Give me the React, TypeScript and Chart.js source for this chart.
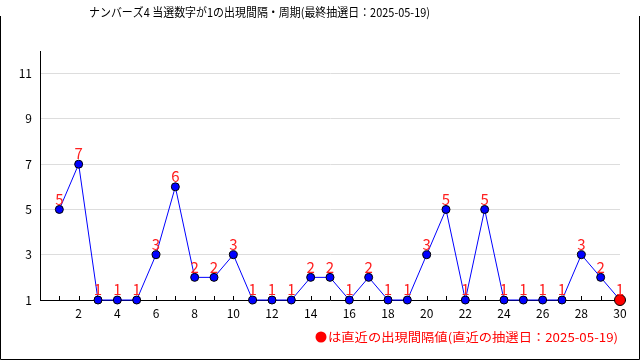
import React, { useEffect, useRef } from 'react';
import { Chart, registerables } from 'chart.js';

Chart.register(...registerables);

const TITLE = 'ナンバーズ4 当選数字が1の出現間隔・周期(最終抽選日：2025-05-19)';
const NOTE = 'は直近の出現間隔値(直近の抽選日：2025-05-19)';
const draws = [1, 2, 3, 4, 5, 6, 7, 8, 9, 10, 11, 12, 13, 14, 15, 16, 17, 18, 19, 20, 21, 22, 23, 24, 25, 26, 27, 28, 29, 30];
const intervals = [5, 7, 1, 1, 1, 3, 6, 2, 2, 3, 1, 1, 1, 2, 2, 1, 2, 1, 1, 3, 5, 1, 5, 1, 1, 1, 1, 3, 2, 1];
const yTicks = [1, 3, 5, 7, 9, 11];
const xLabelTicks = [2, 4, 6, 8, 10, 12, 14, 16, 18, 20, 22, 24, 26, 28, 30];

const FONT = '"Noto Sans CJK JP", "DejaVu Sans", sans-serif';

const decorPlugin = {
  id: 'decor',
  beforeDatasetsDraw(chart: any) {
    const { ctx, chartArea, scales } = chart;
    const xs = scales.x;
    ctx.save();
    ctx.strokeStyle = '#000';
    ctx.lineWidth = 1;
    ctx.beginPath();
    for (const v of draws) {
      const x = Math.round(xs.getPixelForValue(v)) + 0.5;
      ctx.moveTo(x, chartArea.bottom - 4);
      ctx.lineTo(x, chartArea.bottom);
    }
    ctx.moveTo(chartArea.right, chartArea.bottom + 0.5);
    ctx.lineTo(chartArea.right + 6, chartArea.bottom + 0.5);
    ctx.stroke();
    ctx.restore();
  },
  afterDatasetsDraw(chart: any) {
    const { ctx, scales } = chart;
    ctx.save();
    ctx.fillStyle = '#ff2020';
    ctx.font = `15px ${FONT}`;
    ctx.textAlign = 'center';
    ctx.textBaseline = 'bottom';
    intervals.forEach((v, i) => {
      const x = scales.x.getPixelForValue(draws[i]);
      const y = scales.y.getPixelForValue(v);
      ctx.fillText(String(v), x, y - 3);
    });
    ctx.restore();
  },
  afterDraw(chart: any) {
    const { ctx } = chart;
    ctx.save();
    // title
    ctx.fillStyle = '#000';
    ctx.font = `12px ${FONT}`;
    ctx.textAlign = 'left';
    ctx.textBaseline = 'middle';
    const tw = ctx.measureText(TITLE).width;
    const targetW = 341;
    ctx.save();
    ctx.translate(89, 12);
    ctx.scale(targetW / tw, 1);
    ctx.fillText(TITLE, 0, 0);
    ctx.restore();
    // note
    ctx.fillStyle = '#ff0000';
    ctx.beginPath();
    ctx.arc(321, 337, 5.5, 0, Math.PI * 2);
    ctx.fill();
    ctx.font = `12px ${FONT}`;
    const nw = ctx.measureText(NOTE).width;
    const nTarget = 290;
    ctx.save();
    ctx.translate(328, 337);
    ctx.scale(nTarget / nw, 1);
    ctx.fillText(NOTE, 0, 0);
    ctx.restore();
    // frame
    ctx.strokeStyle = '#000';
    ctx.lineWidth = 1;
    ctx.beginPath();
    ctx.moveTo(0.5, 16);
    ctx.lineTo(0.5, 359.5);
    ctx.lineTo(639.5, 359.5);
    ctx.lineTo(639.5, 16);
    ctx.stroke();
    ctx.restore();
  },
};

export default function App() {
  const ref = useRef<HTMLCanvasElement>(null);
  useEffect(() => {
    document.body.style.margin = '0';
    const canvas = ref.current!;
    const chart = new Chart(canvas, {
      type: 'line',
      data: {
        datasets: [
          {
            data: draws.map((d, i) => ({ x: d, y: intervals[i] })),
            borderColor: '#0000ff',
            borderWidth: 1,
            pointBackgroundColor: draws.map((_, i) => (i === draws.length - 1 ? '#ff0000' : '#0000ff')),
            pointBorderColor: '#000',
            pointBorderWidth: 1,
            pointRadius: draws.map((_, i) => (i === draws.length - 1 ? 5.5 : 4)),
            tension: 0,
            clip: false as any,
          },
        ],
      },
      options: {
        responsive: false,
        animation: false,
        devicePixelRatio: 1,
        layout: { padding: { top: 51, right: 20, left: 0, bottom: 0 } },
        plugins: {
          legend: { display: false },
          tooltip: { enabled: false },
          title: { display: false },
        },
        scales: {
          x: {
            type: 'linear',
            min: 0,
            max: 30,
            afterBuildTicks: (s: any) => {
              s.ticks = xLabelTicks.map((v) => ({ value: v }));
            },
            afterFit: (s: any) => {
              s.height = 60;
            },
            grid: { display: false, drawTicks: false },
            border: { display: true, color: '#000', width: 1 },
            ticks: {
              padding: 6,
              color: '#000',
              font: { family: FONT, size: 12 },
              maxRotation: 0,
              autoSkip: false,
            },
          },
          y: {
            type: 'linear',
            min: 1,
            max: 12,
            afterBuildTicks: (s: any) => {
              s.ticks = yTicks.map((v) => ({ value: v }));
            },
            afterFit: (s: any) => {
              s.width = 40;
            },
            grid: { color: '#dddddd', drawTicks: false, lineWidth: 1 },
            border: { display: true, color: '#000', width: 1 },
            ticks: {
              padding: 8,
              color: '#000',
              font: { family: FONT, size: 12 },
            },
          },
        },
      },
      plugins: [decorPlugin],
    });
    return () => chart.destroy();
  }, []);
  return (
    <div style={{ position: 'absolute', left: 0, top: 0, width: 640, height: 360, background: '#fff' }}>
      <canvas ref={ref} width={640} height={360} style={{ display: 'block' }} />
    </div>
  );
}
